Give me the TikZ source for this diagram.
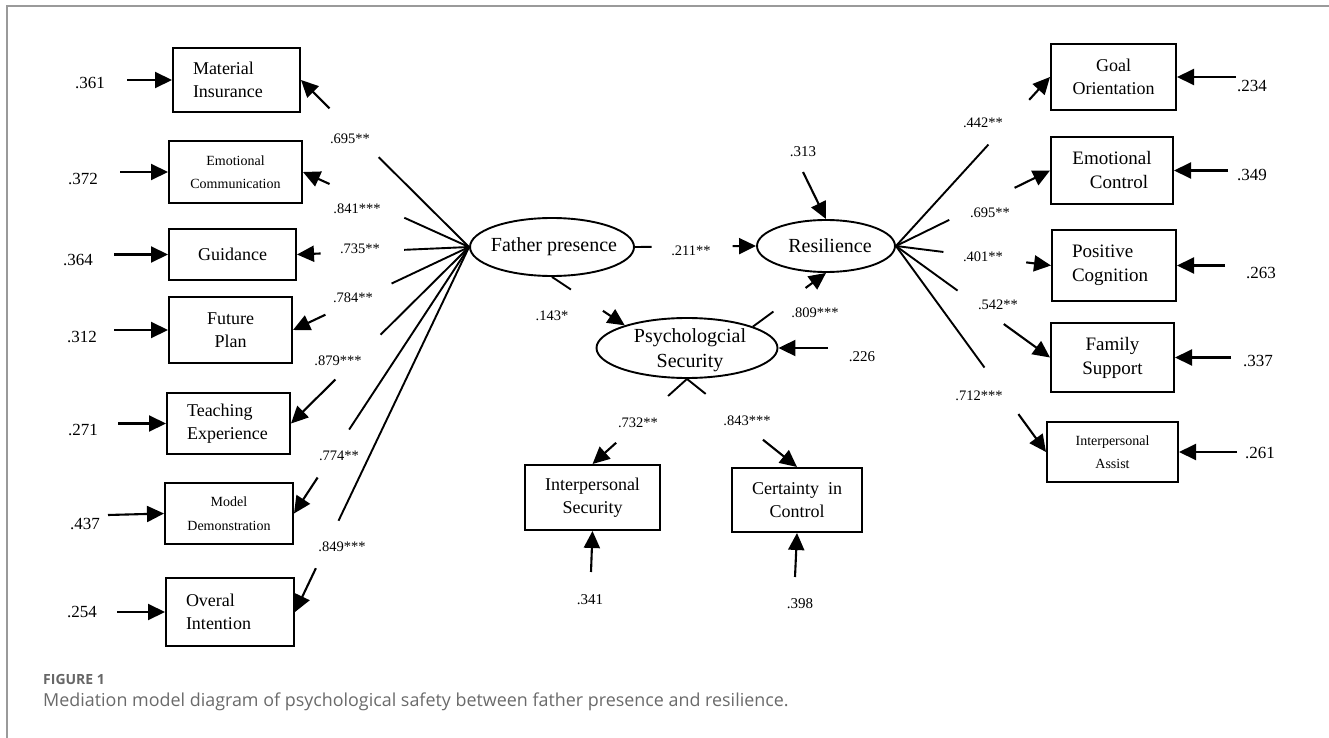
\documentclass[tikz,border=0pt]{standalone}
\usepackage{fontspec}
\setmainfont{Liberation Serif}
\newfontfamily\capfont{Open Sans}
\usetikzlibrary{arrows.meta,calc,shapes.geometric}
\definecolor{capgray}{HTML}{6A6A6A}
\definecolor{figgray}{HTML}{666666}
\definecolor{framegray}{HTML}{9A9A9A}
\newcommand\gapc[4]{%
  \draw[ln] (#1) -- ($(#1)!#3!(#2)$);
  \draw[arr] ($(#1)!#4!(#2)$) -- (#2);
}
\tikzset{
  ln/.style={line width=1.9pt},
  arr/.style={line width=2.1pt,-{Triangle[length=17pt,width=16pt]}},
  box/.style={draw,line width=2pt,inner sep=0pt,align=center},
  lbox/.style={draw,line width=2pt,inner sep=0pt,align=left},
  ell/.style={draw,ellipse,line width=1.9pt,inner sep=0pt},
  bigf/.style={font=\fontsize{18}{22.5}\selectfont},
  rightf/.style={font=\fontsize{19}{24}\selectfont},
  smallf/.style={font=\fontsize{14}{23.5}\selectfont},
  latf/.style={font=\fontsize{20}{25}\selectfont,inner sep=0pt,align=center},
  coef/.style={font=\fontsize{14.5}{16}\selectfont,inner sep=0pt},
  resid/.style={font=\fontsize{17}{19}\selectfont,inner sep=0pt},
  resid2/.style={font=\fontsize{15}{17}\selectfont,inner sep=0pt},
}
\begin{document}
\begin{tikzpicture}[x=1pt,y=-1pt]
\useasboundingbox (0,0) rectangle (1329,738);
\draw[framegray,line width=1.3pt] (7,738) -- (7,6) -- (1329,6);

% latent variables
\node[ell,minimum width=164,minimum height=58] (FP) at (552,247) {};
\node[latf] (FPt) at (554,247) {Father presence};
\node[ell,minimum width=138,minimum height=52] (Res) at (826,246) {};
\node[latf] (Rest) at (830,246) {Resilience};
\node[ell,minimum width=181,minimum height=60] (PS) at (687,348) {};
\node[latf] (PSt) at (690,350) {Psychologcial\\Security};

% left indicators
\node[lbox,bigf,minimum width=127,minimum height=64,text width=87] (MI) at (236.5,80) {Material\\Insurance};
\node[box,smallf,minimum width=133,minimum height=62] (EC) at (235.5,172) {Emotional\\Communication};
\node[box,bigf,minimum width=127,minimum height=51] (G) at (232.5,254.5) {Guidance};
\node[box,bigf,minimum width=123,minimum height=66] (FPl) at (230.5,330) {Future\\Plan};
\node[lbox,bigf,minimum width=123,minimum height=61,text width=83] (TE) at (228.5,423.5) {Teaching\\Experience};
\node[box,smallf,minimum width=128,minimum height=61] (MD) at (229,513.5) {Model\\Demonstration};
\node[lbox,bigf,minimum width=128,minimum height=68,text width=88] (OI) at (230,612) {Overal\\Intention};

% mediator indicators
\node[box,bigf,minimum width=135,minimum height=65] (IS) at (592.5,497.5) {Interpersonal\\Security};
\node[box,bigf,minimum width=130,minimum height=64] (CC) at (797,500) {Certainty\ \ in\\Control};

% right indicators
\node[box,bigf,minimum width=125,minimum height=66] (GO) at (1113.5,77) {Goal\\Orientation};
\node[box,rightf,minimum width=122,minimum height=67] (ECt) at (1112,170.5) {Emotional\\\hspace*{14pt}Control};
\node[lbox,rightf,minimum width=124,minimum height=71,text width=84] (PC) at (1114,265.5) {Positive\\Cognition};
\node[box,rightf,minimum width=123,minimum height=69] (FS) at (1112.5,357.5) {Family\\Support};
\node[box,smallf,minimum width=131,minimum height=60] (IA) at (1112.5,452) {Interpersonal\\Assist};

% loadings: father presence
\gapc{FP.west}{MI.east}{0.538}{0.830}
\gapc{FP.west}{EC.east}{0.39}{0.84}
\gapc{FP.west}{G.east}{0.377}{0.863}
\gapc{FP.west}{FPl.east}{0.44}{0.816}
\gapc{FP.west}{TE.east}{0.497}{0.751}
\gapc{FP.west}{MD.east}{0.685}{0.865}
\gapc{FP.west}{OI.east}{0.75}{0.88}
\node[coef] (l1) at (350,139) {.695**};
\node[coef] (l2) at (357,209) {.841***};
\node[coef] (l3) at (360,249) {.735**};
\node[coef] (l4) at (353,298) {.784**};
\node[coef] (l5) at (338,361) {.879***};
\node[coef] (l6) at (339,456) {.774**};
\node[coef] (l7) at (342,547) {.849***};

% structural paths
\gapc{FP.east}{Res.west}{0.137}{0.806}
\gapc{FP.south}{PS.160}{0.26}{0.70}
\gapc{PS.18}{Res.south}{0.28}{0.72}
\gapc{PS.south}{IS.north}{0.2}{0.75}
\gapc{PS.south}{CC.north}{0.17}{0.69}
\node[coef] (p1) at (691,251) {.211**};
\node[coef] (p2) at (552,316) {.143*};
\node[coef] (p3) at (815,313) {.809***};
\node[coef] (p4) at (638,423) {.732**};
\node[coef] (p5) at (747,421) {.843***};

% loadings: resilience
\gapc{Res.east}{GO.west}{0.60}{0.865}
\gapc{Res.east}{ECt.west}{0.346}{0.77}
\gapc{Res.east}{PC.west}{0.306}{0.84}
\gapc{Res.east}{FS.west}{0.40}{0.70}
\gapc{Res.east}{IA.west}{0.59}{0.816}
\node[coef] (r1) at (983,123) {.442**};
\node[coef] (r2) at (990,213) {.695**};
\node[coef] (r3) at (983,257) {.401**};
\node[coef] (r4) at (998,305) {.542**};
\node[coef] (r5) at (979,396) {.712***};

% residuals left
\node[resid] (e1) at (90,83) {.361};
\node[resid] (e2) at (83,179) {.372};
\node[resid] (e3) at (78,260) {.364};
\node[resid] (e4) at (82,337) {.312};
\node[resid] (e5) at (83,430) {.271};
\node[resid] (e6) at (85,524) {.437};
\node[resid] (e7) at (82,612) {.254};
\coordinate (s1) at (127,80);
\coordinate (s2) at (120,172);
\coordinate (s3) at (114,254.5);
\coordinate (s4) at (114,330);
\coordinate (s5) at (118,423.5);
\coordinate (s6) at (108,515);
\coordinate (s7) at (117,612);
\draw[arr] (s1) -- (MI.west);
\draw[arr] (s2) -- (EC.west);
\draw[arr] (s3) -- (G.west);
\draw[arr] (s4) -- (FPl.west);
\draw[arr] (s5) -- (TE.west);
\draw[arr] (s6) -- (MD.west);
\draw[arr] (s7) -- (OI.west);

% residuals centre
\node[resid2] (eR) at (803,152) {.313};
\node[resid2] (ePS) at (862,357) {.226};
\node[resid2] (eIS) at (590,600) {.341};
\node[resid2] (eCC) at (800,604) {.398};
\coordinate (sR) at (803,172);
\coordinate (sPS) at (828,348);
\coordinate (sIS) at (591,572);
\coordinate (sCC) at (795,577);
\draw[arr] (sR) -- (Res.north);
\draw[arr] (sPS) -- (PS.east);
\draw[arr] (sIS) -- (IS.south);
\draw[arr] (sCC) -- (CC.south);

% residuals right
\node[resid] (f1) at (1252,86) {.234};
\node[resid] (f2) at (1252,175) {.349};
\node[resid] (f3) at (1261,273) {.263};
\node[resid] (f4) at (1258,361) {.337};
\node[resid] (f5) at (1260,453) {.261};
\coordinate (t1) at (1236,77);
\coordinate (t2) at (1228,170.5);
\coordinate (t3) at (1225,265.5);
\coordinate (t4) at (1231,357.5);
\coordinate (t5) at (1237,452);
\draw[arr] (t1) -- (GO.east);
\draw[arr] (t2) -- (ECt.east);
\draw[arr] (t3) -- (PC.east);
\draw[arr] (t4) -- (FS.east);
\draw[arr] (t5) -- (IA.east);

% caption
\node[anchor=west,inner sep=0pt,text=figgray,font=\capfont\bfseries\fontsize{14}{16}\selectfont] (fig) at (43,679) {FIGURE 1};
\node[anchor=west,inner sep=0pt,text=capgray,font=\capfont\fontsize{17.9}{20}\selectfont] (cap) at (43,702) {Mediation model diagram of psychological safety between father presence and resilience.};
\end{tikzpicture}
\end{document}
